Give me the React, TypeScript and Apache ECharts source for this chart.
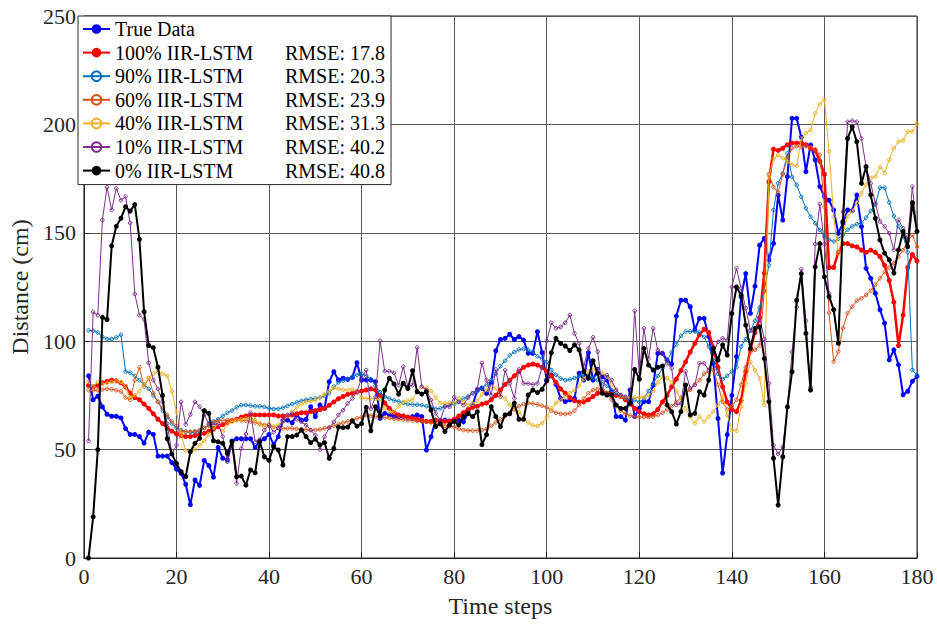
import React, { useEffect, useRef } from "react";
import * as echarts from "echarts";

// Time steps run 1..180; each array holds one distance reading (cm) per step.
const seriesNames = [
  "True Data",
  "100% IIR-LSTM",
  "90% IIR-LSTM",
  "60% IIR-LSTM",
  "40% IIR-LSTM",
  "10% IIR-LSTM",
  "0% IIR-LSTM",
];
const rmseLabels = ["", "17.8", "20.3", "23.9", "31.3", "40.2", "40.8"];

const trueData = [
  84, 73, 74.6, 69.7, 66.3, 65.4, 65.4, 64.6, 59.7, 57,
  57, 56, 53, 58, 57, 47, 47, 47, 44, 41,
  39, 34, 24.6, 36, 33.5, 45, 42.6, 37.3, 51, 46,
  45.2, 54, 55, 55, 55, 55, 51, 54, 55, 57,
  52.2, 56, 63.3, 63.6, 62.4, 66, 63.6, 63.9, 69.8, 65.2,
  70.6, 69, 81.3, 85.9, 82.1, 82.9, 82.4, 83.3, 90.1, 82.1,
  82.1, 82.1, 81.3, 64.4, 66.7, 66, 65.2, 65.2, 65.2, 64.9,
  65.2, 66, 65.2, 49.8, 55.9, 63.6, 62.8, 63.6, 63.2, 63.6,
  63.6, 62.8, 66.7, 70.6, 77.5, 78.3, 75.9, 80.8, 95.6, 100.8,
  101.3, 103.2, 100.8, 102.1, 100.5, 94.4, 94.4, 104.4, 94.7, 82.1,
  84.4, 80, 73.6, 72.1, 72.9, 73.6, 85.2, 82.1, 94.7, 82.1,
  87, 83.6, 82.1, 76.7, 65.2, 65.2, 63.6, 77.5, 65.2, 69,
  72.1, 72.1, 79.8, 94.4, 94.4, 91.3, 89.5, 111.6, 118.9, 118.9,
  115.9, 105.2, 110.5, 110.5, 102.1, 89.8, 64.4, 39.2, 56.9, 75,
  92.9, 120.5, 131.2, 112.8, 125.4, 144.3, 147.4, 137.4, 145.1, 167.4,
  155.9, 175.9, 202.8, 202.8, 194.1, 178.2, 190.5, 183.6, 171.3, 166.7,
  165, 160.5, 149.8, 154.4, 160.5, 160.2, 167.4, 152.9, 133.6, 129,
  122.1, 114.5, 108.3, 91.4, 96, 89.1, 75.3, 76.9, 81.5, 83.8,
];

const lstm100 = [
  79.7, 79, 79.7, 80.8, 81.4, 82, 81.7, 80.8, 79, 76,
  74, 73, 71, 69, 66.5, 64, 62, 60, 58.5, 57.3,
  56.5, 56, 56, 56.5, 57, 57.5, 58.5, 59.5, 60.5, 61.5,
  62.5, 63.3, 64, 65, 65.5, 66, 66, 66, 66, 66,
  66, 65.5, 65.5, 65.5, 66, 66.5, 67, 67, 67.5, 68,
  68.5, 69, 70.5, 72, 73.5, 74.5, 75.5, 76, 76.5, 77,
  77.5, 78, 77.5, 75, 71.5, 69, 67, 66, 65.5, 65,
  64.5, 64, 63.5, 63, 63, 63.5, 63.5, 63, 63, 64,
  65.5, 67, 68.5, 69.5, 70, 71, 71.5, 73, 75, 77.5,
  80, 82, 84, 86, 88, 89, 89.5, 89, 88, 86,
  84, 81, 78, 76, 74, 72.5, 72, 72, 73, 74.5,
  76, 76.5, 76, 75.5, 75, 74.5, 73, 71, 69, 67.5,
  66.5, 66, 66.5, 68.5, 72, 75, 79, 82.5, 86.5, 90.5,
  95, 99, 103, 105.5, 104, 97, 88, 79, 72, 68.5,
  67.5, 72.6, 86, 96, 104, 110.7, 131.4, 173.6, 188.6, 188,
  189, 190.6, 191.4, 191.4, 191.4, 190.6, 189, 188, 183, 177,
  134, 134, 141, 145, 145, 144, 143.5, 142, 141, 142,
  141, 139, 135, 128, 118, 98, 112, 134, 140, 137,
];

const lstm90 = [
  105, 104.8, 104, 102, 101, 101, 101.7, 103, 86, 85.5,
  84, 82, 80, 78, 75, 72, 68, 65, 62, 60,
  59, 58.3, 58, 58, 58.5, 60, 61.5, 63, 64, 65.5,
  67, 68, 69.5, 70.5, 70.6, 70.3, 70, 70, 69.7, 69,
  68.7, 68.8, 69.3, 70.2, 71, 71.8, 72.5, 73, 73.3, 73.6,
  74, 74.8, 76, 79, 81, 81.8, 82.5, 83.5, 84.5, 85,
  84, 82.5, 79.5, 76.5, 74.5, 73.5, 72.7, 72.2, 71.5, 71,
  70.8, 70.7, 70.5, 70, 69.3, 68.8, 69, 70, 70.5, 71,
  72, 73.5, 74.5, 76, 77, 78.5, 80, 82, 85, 88.5,
  91, 93.5, 95, 96.2, 96.5, 96, 95, 93, 92, 90.5,
  86.7, 84.5, 82.8, 82, 82.3, 83, 84, 84.4, 84, 83,
  82, 81, 79.5, 77.5, 76, 75, 74, 73, 72.8, 72,
  73.5, 77, 80.5, 84, 87.5, 91, 95, 98.5, 102.5, 104.5,
  104.5, 104.5, 104, 102, 97.5, 91, 85, 82.5, 84, 86,
  88, 97.5, 101, 104.8, 109.4, 115.6, 123.3, 135, 160.5, 172.8,
  177.4, 186.6, 175.8, 172, 166.6, 161.3, 157.4, 154.4, 151.3, 148.3,
  146.8, 146, 147.3, 149.2, 151.4, 153, 154, 154.6, 157, 160,
  163, 170.8, 170.8, 164, 157.7, 153, 148.5, 141, 86.7, 84.4,
];

const lstm60 = [
  77.4, 77.4, 77.4, 77.7, 78, 77.8, 77.4, 76.8, 74, 73,
  82, 88, 79, 83, 76, 72, 69, 66, 63, 61,
  58.3, 58.3, 58.3, 58.5, 59, 60, 61, 62.5, 63.4, 63.5,
  63.7, 63.7, 63.6, 63.5, 63.4, 63, 62.5, 62, 61.4, 61,
  60.5, 60, 59.8, 59.8, 59.8, 59.5, 59.3, 59.2, 59, 59,
  59.3, 59.8, 60.3, 61, 61.7, 62.3, 63, 63.7, 64.4, 65,
  66, 65.7, 65.3, 65, 64.8, 64.5, 64.2, 64, 63.8, 63.6,
  63.4, 63.2, 63, 62.8, 62.5, 62, 61.5, 61, 60.8, 60.5,
  59.5, 59, 58.8, 58.7, 58.8, 59, 59.5, 61, 62.5, 64,
  65.5, 67, 68.5, 70, 71, 71.5, 71.2, 70.8, 70.2, 69.5,
  68, 67, 66.5, 66.4, 66.7, 68, 70.5, 73.5, 76, 77.5,
  78, 77.7, 76, 73, 70, 68, 66.5, 65.7, 65.2, 65,
  65, 65, 65.2, 65.9, 67, 68.5, 70, 72, 74, 76,
  77.5, 80, 82, 85, 86, 86.7, 80, 72, 68.5, 70,
  73, 80, 88, 95, 96, 98, 123, 177, 171, 168.6,
  177, 184.8, 189, 190, 189.5, 190, 189.5, 188.5, 186, 162,
  113, 90.6, 95.2, 106, 112.9, 115.9, 118.7, 119.8, 121.3, 123.3,
  126, 129, 132, 134, 136, 139, 142, 146, 149, 143.6,
];

const lstm40 = [
  81.2, 79.2, 81.2, 80.2, 80.8, 81.2, 81.7, 81.2, 79.2, 74,
  75, 77, 80, 83, 85, 86, 85, 84, 77, 67.5,
  57, 49.5, 49, 50, 52, 54, 57, 60, 62, 58.3,
  62, 62.9, 63.6, 64, 64.4, 64.4, 63.6, 61.5, 60.6, 62,
  60.5, 61.5, 63, 65.5, 67.5, 69.5, 71, 72, 72.5, 72.8,
  74, 75.5, 77, 78.5, 78, 77.5, 77.5, 77.8, 77, 74,
  73.5, 73.6, 73.5, 73, 69, 67.5, 67.5, 70, 72, 72.5,
  73, 77, 79, 78.5, 77, 74, 71.5, 71.3, 71.5, 71.3,
  73.6, 72, 70.6, 71.1, 72.5, 75.5, 77.5, 79, 78.2, 75.2,
  73.6, 70.6, 69, 67.5, 64.4, 62.5, 61.2, 60.9, 62.1, 65,
  69, 71.5, 73, 74.4, 76, 77.5, 79.5, 82.5, 86, 86.7,
  86.4, 85.5, 83.6, 80, 77.5, 74.5, 74.1, 74, 74, 74.1,
  74.1, 75, 77, 81, 83.6, 83, 81, 77, 73, 69,
  65.2, 62.1, 65.2, 62.9, 65.2, 67.5, 70.6, 74.4, 66, 59,
  58.7, 69.8, 80.5, 90.5, 86.7, 82.9, 70.6, 176, 184, 185.9,
  184.4, 182.8, 181.3, 180.8, 193.5, 195.9, 197.4, 205, 209.4, 211.5,
  187.5, 157.6, 140.7, 150, 157.6, 160, 163.7, 168.3, 172.2, 175.3,
  176, 180.4, 177.6, 183.7, 189.1, 192.1, 192.5, 196.7, 196.7, 200.3,
];

const lstm10 = [
  54, 113.5, 112, 156, 171, 160.5, 170.5, 165, 166.7, 154.5,
  121.8, 112, 110, 90, 82, 78, 72, 62, 48, 52,
  72, 61.6, 66.2, 72, 69.8, 66, 62, 61.5, 62, 56,
  44.4, 52, 34.4, 50.5, 57.2, 67, 53.6, 54.7, 59, 61.3,
  58, 60, 63.6, 66, 66.7, 64, 62.8, 61.3, 59, 56.7,
  50, 56, 60, 62.8, 66, 68.2, 71.3, 73.6, 76.7, 82.9,
  86.7, 68.8, 74.4, 100.2, 86.2, 86.2, 85.4, 79.7, 88.2, 79,
  79.7, 97.1, 79, 77.5, 72.9, 66.7, 63.6, 69.8, 69.8, 74.1,
  72, 70.5, 74, 76, 78, 90, 82, 75, 87, 74.4,
  86.7, 80.5, 73.6, 87, 80.5, 80.5, 80, 80.5, 88, 100,
  108.5, 105.9, 106.6, 108.5, 112.1, 103.6, 99, 88.3, 96.7, 101.8,
  95.2, 77.5, 84.4, 82.1, 77.5, 75.2, 74.4, 72, 114, 85,
  105.9, 92, 105.9, 95.9, 94.4, 89.8, 87.5, 70.6, 71.3, 86,
  78.3, 79.8, 89.8, 89.8, 86.7, 94.4, 99.7, 101.3, 100.5, 125,
  133.6, 124.4, 115.2, 105, 104, 111, 101, 80.5, 52, 48,
  51.2, 69.6, 95, 115.7, 133.3, 109.5, 78.8, 144.8, 163.3, 144.8,
  122, 114.5, 99, 159.7, 201.2, 201.7, 201.2, 193.5, 180.5, 172.8,
  163.7, 155.2, 152.9, 149.8, 142.1, 156, 152.1, 146.7, 171.3, 150.6,
];

const lstm0 = [
  0, 19, 50, 111, 110, 144, 153, 156.7, 162, 160,
  163, 147, 113.6, 98, 97, 88, 75, 55, 48, 43.6,
  39.8, 37.5, 49, 52.9, 55.2, 68, 66.7, 54.1, 53.6, 52.9,
  48.3, 53.6, 37.5, 37.8, 33.6, 40.6, 39.3, 53.6, 46.7, 45,
  51.3, 49.8, 42.9, 56, 56, 56.7, 59, 56, 53.2, 54.8,
  52.2, 53.2, 46, 50.5, 60.4, 60.1, 60.4, 63.2, 60.8, 62,
  69.5, 58.7, 69.8, 65.5, 77.5, 82.9, 80.3, 75.6, 80.6, 78.2,
  86.4, 76.7, 75.6, 76.7, 68.2, 60.6, 62, 58.3, 61.4, 63,
  61.4, 65.2, 66.7, 65.2, 67.5, 52.3, 56.9, 69.8, 65.2, 60.6,
  66, 66.5, 71.4, 64, 64, 75.2, 77.5, 76.3, 77.8, 81.7,
  94.7, 101.3, 99, 97.8, 95.7, 98.3, 96, 85.9, 82.9, 91,
  85.2, 76, 75.2, 75.2, 70.6, 69, 69, 71.4, 87, 82.5,
  96.7, 89, 86.7, 88, 88.6, 70.6, 67.5, 61.8, 67.5, 79.8,
  66, 66.7, 76.7, 75.2, 82.1, 96.7, 91.3, 98.3, 93.6, 112.8,
  125, 121.3, 107.4, 96.7, 105.9, 106.6, 92, 72.1, 46, 24.4,
  46.7, 69.7, 85.9, 118.9, 131.2, 103.6, 77.5, 134.3, 145, 129.7,
  120.5, 114.5, 99.1, 155.2, 193.5, 198.9, 192, 172.8, 180.5, 167.5,
  156.7, 146.7, 140.6, 137.5, 131.4, 142.1, 150.6, 143.6, 163.9, 150.6,
];

const seriesValues = [trueData, lstm100, lstm90, lstm60, lstm40, lstm10, lstm0];

// Per-series look: colour, line width, marker size and whether the marker is hollow.
const styles = [
  { color: "#0000FF", width: 2, size: 5, hollow: false },
  { color: "#FF0000", width: 2.5, size: 5, hollow: false },
  { color: "#0072BD", width: 1, size: 3.5, hollow: true },
  { color: "#D95319", width: 1, size: 3.5, hollow: true },
  { color: "#EDB120", width: 1, size: 3.5, hollow: true },
  { color: "#7E2F8E", width: 1, size: 3.5, hollow: true },
  { color: "#000000", width: 2, size: 5, hollow: false },
];

const FONT = "Liberation Serif";
const INK = "#262626";

export default function App() {
  const ref = useRef<HTMLDivElement>(null);

  useEffect(() => {
    if (!ref.current) return;
    const chart = echarts.init(ref.current, null, { renderer: "svg" });

    const series = seriesNames.map((name, k) => ({
      name,
      type: "line",
      data: seriesValues[k].map((v, i) => [i + 1, v]),
      symbol: "circle",
      symbolSize: styles[k].size,
      showSymbol: true,
      lineStyle: { color: styles[k].color, width: styles[k].width },
      itemStyle: styles[k].hollow
        ? { color: "rgba(255,255,255,0)", borderColor: styles[k].color, borderWidth: 1 }
        : { color: styles[k].color, borderWidth: 0 },
      emphasis: { disabled: true },
      z: 2 + k * 0.01,
    }));

    const axisText = { fontFamily: FONT, fontSize: 22, color: INK };

    chart.setOption({
      animation: false,
      backgroundColor: "#ffffff",
      grid: {
        left: 78,
        right: 20,
        top: 16,
        bottom: 66,
        show: true,
        borderColor: INK,
        borderWidth: 1,
        backgroundColor: "transparent",
      },
      legend: {
        orient: "vertical",
        left: 78,
        top: 16,
        padding: [3, 6, 4, 4],
        itemGap: 3.6,
        itemWidth: 27,
        itemHeight: 12,
        backgroundColor: "#ffffff",
        borderColor: INK,
        borderWidth: 1,
        borderRadius: 0,
        data: seriesNames,
        formatter: (name: string) => {
          const k = seriesNames.indexOf(name);
          return rmseLabels[k]
            ? `{n|${name}}{r|RMSE: ${rmseLabels[k]}}`
            : `{n|${name}}`;
        },
        textStyle: {
          fontFamily: FONT,
          fontSize: 20,
          color: "#000",
          lineHeight: 20,
          rich: {
            n: { width: 170, fontFamily: FONT, fontSize: 20, color: "#000", lineHeight: 20 },
            r: { fontFamily: FONT, fontSize: 20, color: "#000", lineHeight: 20 },
          },
        },
      },
      xAxis: {
        type: "value",
        min: 0,
        max: 180,
        interval: 20,
        name: "Time steps",
        nameLocation: "middle",
        nameGap: 36,
        nameTextStyle: { fontFamily: FONT, fontSize: 24, color: INK },
        axisLine: { show: true, lineStyle: { color: INK, width: 1 } },
        axisTick: { show: true, inside: true, length: 6, lineStyle: { color: INK } },
        axisLabel: { ...axisText, margin: 7 },
        splitLine: { show: true, lineStyle: { color: "#595959", width: 1 } },
      },
      yAxis: {
        type: "value",
        min: 0,
        max: 250,
        interval: 50,
        name: "Distance (cm)",
        nameLocation: "middle",
        nameGap: 44,
        nameTextStyle: { fontFamily: FONT, fontSize: 24, color: INK },
        axisLine: { show: true, lineStyle: { color: INK, width: 1 } },
        axisTick: { show: true, inside: true, length: 6, lineStyle: { color: INK } },
        axisLabel: { ...axisText, margin: 8 },
        splitLine: { show: true, lineStyle: { color: "#595959", width: 1 } },
      },
      series,
    });

    return () => chart.dispose();
  }, []);

  return (
    <div
      ref={ref}
      style={{ position: "fixed", left: 0, top: 0, width: 937, height: 624 }}
    />
  );
}
